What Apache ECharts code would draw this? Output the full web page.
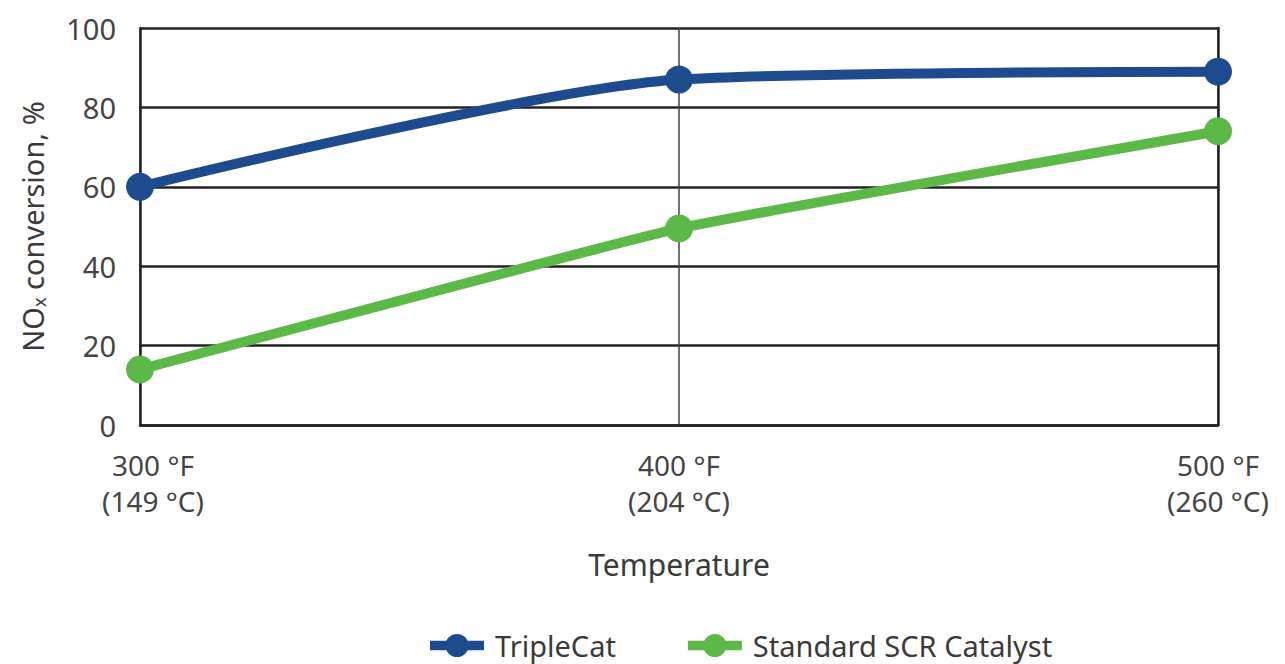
<!DOCTYPE html>
<html lang="en">
<head>
    <meta charset="UTF-8">
    <style>
    body { margin: 0; padding: 0; background: #fff; }
    #chart { width: 1285px; height: 664px; }
    </style>
    <script src="https://cdn.jsdelivr.net/npm/echarts@6/dist/echarts.min.js"></script>
</head>
<body>
    <div id="chart"></div>
    <script>
        // values
        const temps = ['300 °F\n(149 °C)', '400 °F\n(204 °C)', '500 °F\n(260 °C)'];
        const tripleCat = [60, 87, 89];
        const standardScr = [14, 49.5, 74];
        const yTicks = [0, 20, 40, 60, 80, 100];

        const blue = '#1d4b8e';
        const green = '#5cb947';
        const font = 'Noto Sans';
        // legend icon: thick bar with a dot in the middle
        const legendIcon = 'path://M0,7L56,7L56,17L0,17Z M16,12A12,12 0 1,1 40,12A12,12 0 1,1 16,12Z';

        const chart = echarts.init(document.getElementById('chart'), null, { renderer: 'svg' });

        chart.setOption({
            animation: false,
            textStyle: { fontFamily: font },
            grid: { left: 140, right: 67, top: 28, bottom: 239, containLabel: false, outerBoundsMode: 'none' },
            legend: {
                top: 626,
                left: 425,
                itemWidth: 54,
                itemHeight: 24,
                itemGap: 72,
                textStyle: { fontSize: 29, color: '#3a3a3a', fontFamily: font, padding: [0, 0, 0, 6] },
                data: [
                    { name: 'TripleCat', icon: legendIcon },
                    { name: 'Standard SCR Catalyst', icon: legendIcon }
                ]
            },
            xAxis: {
                type: 'category',
                boundaryGap: false,
                data: temps.map((t, i) => i === 0 ? { value: t, textStyle: { padding: [0, 0, 0, 26] } } : t),
                name: 'Temperature',
                nameLocation: 'middle',
                nameGap: 124,
                nameTextStyle: { fontSize: 30, color: '#3a3a3a' },
                axisLine: { lineStyle: { color: '#222', width: 2.5 } },
                axisTick: { show: false },
                axisLabel: { fontSize: 28, color: '#444', lineHeight: 36, margin: 22 },
                splitLine: { show: true, lineStyle: { color: '#444', width: 1.5 } }
            },
            yAxis: [{
                type: 'value',
                min: yTicks[0],
                max: yTicks[yTicks.length - 1],
                interval: 20,
                name: 'NO{s|x} conversion, %',
                nameLocation: 'middle',
                nameGap: 92,
                nameRotate: 90,
                nameTextStyle: {
                    fontSize: 29, color: '#3a3a3a',
                    rich: { s: { fontSize: 18, color: '#3a3a3a', padding: [14, 0, 0, 0] } }
                },
                axisLine: { show: true, lineStyle: { color: '#222', width: 2.5 } },
                axisTick: { show: false },
                axisLabel: { fontSize: 29, color: '#444', margin: 24 },
                splitLine: { lineStyle: { color: '#222', width: 2.5 } }
            }, {
                type: 'value',
                position: 'right',
                min: 0, max: 100, interval: 20,
                axisLine: { show: true, lineStyle: { color: '#222', width: 2.5 } },
                axisTick: { show: false },
                axisLabel: { show: false },
                splitLine: { show: false }
            }],
            series: [{
                name: 'TripleCat',
                type: 'line',
                data: tripleCat,
                smooth: 0.25,
                color: blue,
                symbol: 'circle',
                symbolSize: 28,
                lineStyle: { width: 10, color: blue },
                itemStyle: { color: blue }
            }, {
                name: 'Standard SCR Catalyst',
                type: 'line',
                data: standardScr,
                smooth: 0.1,
                color: green,
                symbol: 'circle',
                symbolSize: 28,
                lineStyle: { width: 10, color: green },
                itemStyle: { color: green }
            }]
        });
    </script>
</body>
</html>
